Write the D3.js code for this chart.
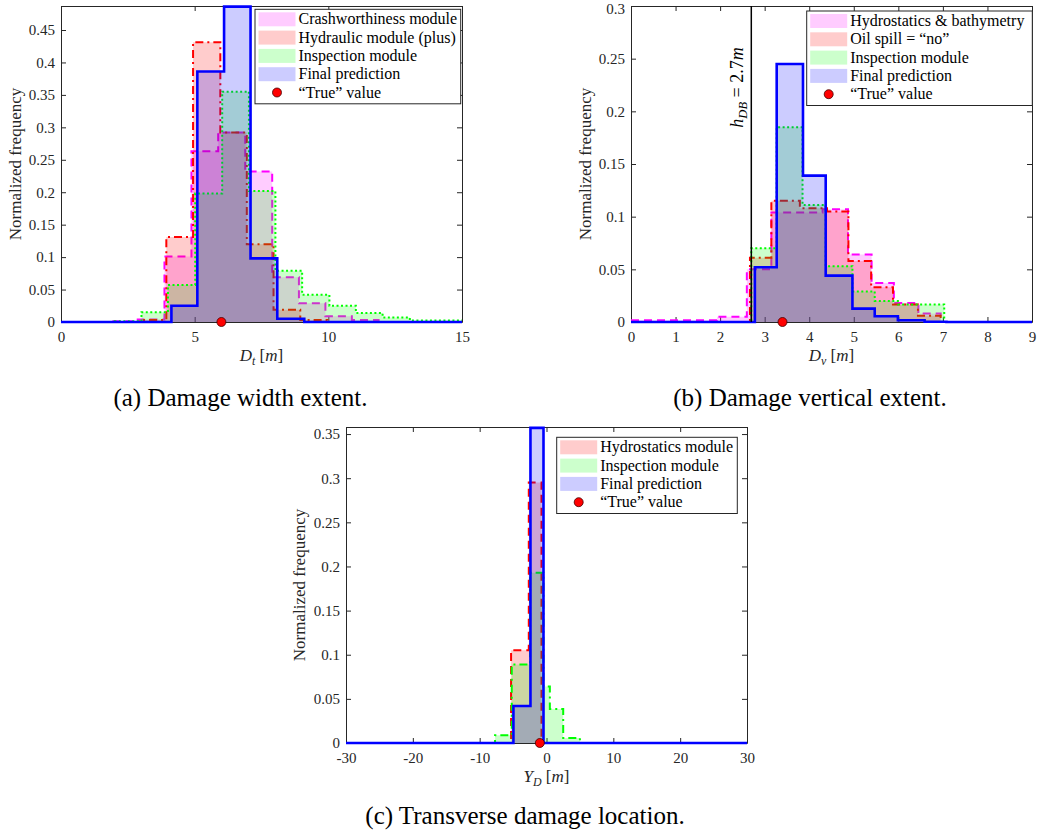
<!DOCTYPE html>
<html>
<head>
<meta charset="utf-8">
<script src="https://cdn.jsdelivr.net/npm/d3@7"></script>
<style>
  body { margin: 0; background: #fff; }
  svg { display: block; font-family: "Liberation Serif", "Times New Roman", serif; }
</style>
</head>
<body>
<script>
// (a) damage width extent: bin edges and normalized frequency per series
var aCrashEdges = [0, 1.88, 2.87, 3.87, 4.88, 5.88, 6.89, 7.9, 8.9, 9.89, 10.88, 11.88, 15];
var aCrashFreq  = [0, 0.001, 0.004, 0.101, 0.263, 0.292, 0.232, 0.069, 0.029, 0.009, 0.003, 0];
var aHydrEdges  = [0, 2.94, 3.94, 4.94, 5.96, 6.95, 7.95, 8.95, 9.97, 15];
var aHydrFreq   = [0, 0.003, 0.131, 0.431, 0.292, 0.12, 0.019, 0.003, 0];
var aInspEdges  = [0, 2.01, 3.01, 4.0, 5.02, 6.03, 7.03, 8.02, 9.02, 10.04, 11.03, 12.03, 13.05, 15];
var aInspFreq   = [0, 0.001, 0.015, 0.057, 0.198, 0.355, 0.202, 0.079, 0.042, 0.025, 0.014, 0.007, 0.0025];
var aFinalEdges = [0, 4.13, 5.1, 6.1, 7.09, 8.09, 9.1, 15];
var aFinalFreq  = [0, 0.025, 0.386, 0.486, 0.098, 0.005, 0];
var aTrue = 6.0;
var aXTicks = [0, 5, 10, 15];
var aYTicks = [0, 0.05, 0.1, 0.15, 0.2, 0.25, 0.3, 0.35, 0.4, 0.45];
var aLegend = ['Crashworthiness module', 'Hydraulic module (plus)', 'Inspection module', 'Final prediction', '\u201cTrue\u201d value'];

// (b) damage vertical extent
var bHydroEdges = [0, 1.93, 2.6, 3.15, 3.72, 4.3, 4.87, 5.4, 5.9, 6.45, 6.95, 9];
var bHydroFreq  = [0.0016, 0.005, 0.05, 0.104, 0.104, 0.107, 0.064, 0.037, 0.018, 0.008, 0];
var bOilEdges   = [0, 2.67, 3.15, 3.79, 4.4, 4.88, 5.39, 5.88, 6.44, 6.95, 9];
var bOilFreq    = [0, 0.061, 0.115, 0.108, 0.105, 0.058, 0.033, 0.0165, 0.006, 0];
var bInspEdges  = [0, 2.7, 3.27, 3.85, 4.37, 4.97, 5.47, 5.99, 6.5, 7.03, 9];
var bInspFreq   = [0, 0.070, 0.185, 0.111, 0.053, 0.029, 0.020, 0.0165, 0.0165, 0];
var bFinalEdges = [0, 2.78, 3.27, 3.86, 4.37, 4.97, 5.47, 5.99, 6.59, 7.08, 9];
var bFinalFreq  = [0, 0.052, 0.245, 0.139, 0.044, 0.0127, 0.0054, 0.0016, 0.0003, 0];
var bTrue = 3.4;
var bHdb = 2.7;
var bXTicks = [0, 1, 2, 3, 4, 5, 6, 7, 8, 9];
var bYTicks = [0, 0.05, 0.1, 0.15, 0.2, 0.25, 0.3];
var bLegend = ['Hydrostatics & bathymetry', 'Oil spill = \u201cno\u201d', 'Inspection module', 'Final prediction', '\u201cTrue\u201d value'];

// (c) transverse damage location
var cHydroEdges = [-30, -5.3, -2.65, -0.75, 30];
var cHydroFreq  = [0, 0.105, 0.295, 0];
var cInspEdges  = [-30, -7.7, -5.2, -2.45, -0.46, 0.5, 2.5, 5.0, 30];
var cInspFreq   = [0, 0.0087, 0.089, 0.193, 0.064, 0.0385, 0.0057, 0];
var cFinalEdges = [-30, -4.95, -2.4, -0.45, 30];
var cFinalFreq  = [0, 0.042, 0.357, 0];
var cTrue = -1.0;
var cXTicks = [-30, -20, -10, 0, 10, 20, 30];
var cYTicks = [0, 0.05, 0.1, 0.15, 0.2, 0.25, 0.3, 0.35];
var cLegend = ['Hydrostatics module', 'Inspection module', 'Final prediction', '\u201cTrue\u201d value'];

var W = 1037, H = 835;
var ink = '#262626';

var svg = d3.select('body').append('svg')
    .attr('width', W)
    .attr('height', H);
svg.append('rect').attr('width', W).attr('height', H).attr('fill', '#fff');

/* line styles */
var MAG = {color: '#ff00ff', dash: '8,5', width: 2};
var RED_DD = {color: '#ff0000', dash: '8,4,2,4', width: 2};
var RED_D = {color: '#ff0000', dash: '8,5', width: 2};
var GRN_DOT = {color: '#00ff00', dash: '2,2.5', width: 2};
var GRN_DD = {color: '#00ff00', dash: '8,4,2,4', width: 2};
var BLUE = {color: '#0000ff', dash: null, width: 2.6};

function tickFmt(d) { return d === 0 ? '0' : String(+d.toFixed(2)); }

function mathText(sel, parts) {
    // parts: [text, italic, sub, back-up-from-sub]
    parts.forEach(function(p) {
        var t = sel.append('tspan').text(p[0]);
        if (p[1]) t.attr('font-style', 'italic');
        if (p[2]) t.attr('font-size', '70%').attr('dy', 4);
        if (p[3]) t.attr('dy', -4);
    });
}

function drawPanel(p) {
    var x = d3.scaleLinear().domain(p.xDomain).range([p.left, p.right]);
    var y = d3.scaleLinear().domain(p.yDomain).range([p.bottom, p.top]);
    var g = svg.append('g');

    /* axes box with inward ticks */
    var bottom = g.append('g').attr('transform', 'translate(0,' + p.bottom + ')')
        .call(d3.axisBottom(x).tickValues(p.xTicks).tickSize(-5).tickSizeOuter(0).tickPadding(9).tickFormat(d => String(d)));
    var top = g.append('g').attr('transform', 'translate(0,' + p.top + ')')
        .call(d3.axisTop(x).tickValues(p.xTicks).tickSize(-5).tickSizeOuter(0).tickFormat(''));
    var left = g.append('g').attr('transform', 'translate(' + p.left + ',0)')
        .call(d3.axisLeft(y).tickValues(p.yTicks).tickSize(-5).tickSizeOuter(0).tickPadding(6).tickFormat(tickFmt));
    var right = g.append('g').attr('transform', 'translate(' + p.right + ',0)')
        .call(d3.axisRight(y).tickValues(p.yTicks).tickSize(-5).tickSizeOuter(0).tickFormat(''));
    [bottom, top, left, right].forEach(function(a) {
        a.attr('font-family', null).attr('font-size', 15);
        a.selectAll('path, line').attr('stroke', ink).attr('stroke-width', 1);
        a.selectAll('text').attr('fill', ink);
    });
    // keep the topmost y label inside the picture
    left.selectAll('.tick text').filter(d => y(d) < 10).attr('dy', '0.5em');

    /* histograms as filled stairs */
    p.series.forEach(function(s) {
        var pts = s.edges.map((e, i) => [e, s.freq[Math.min(i, s.freq.length - 1)]]);
        g.append('path').datum(pts)
            .attr('d', d3.area().x(d => x(d[0])).y0(y(0)).y1(d => y(d[1])).curve(d3.curveStepAfter))
            .attr('fill', s.style.color).attr('fill-opacity', 0.2);
        g.append('path').datum(pts)
            .attr('d', d3.line().x(d => x(d[0])).y(d => y(d[1])).curve(d3.curveStepAfter))
            .attr('fill', 'none')
            .attr('stroke', s.style.color)
            .attr('stroke-width', s.style.width)
            .attr('stroke-dasharray', s.style.dash);
    });

    if (p.extra) p.extra(g, x, y);

    g.append('circle')
        .attr('cx', x(p.trueVal)).attr('cy', y(0)).attr('r', 4.5)
        .attr('fill', '#ff0000').attr('stroke', '#400').attr('stroke-width', 0.8);

    /* axis labels */
    var xl = g.append('text')
        .attr('x', (p.left + p.right) / 2).attr('y', p.bottom + 39)
        .attr('text-anchor', 'middle').attr('font-size', 17).attr('fill', ink);
    mathText(xl, p.xLabel);

    g.append('text')
        .attr('transform', 'translate(' + p.yLabelX + ',' + (p.top + p.bottom) / 2 + ') rotate(-90)')
        .attr('text-anchor', 'middle').attr('font-size', 17).attr('fill', ink)
        .text('Normalized frequency');

    /* legend */
    var L = p.legend, rowH = 18.3;
    var lg = g.append('g');
    lg.append('rect')
        .attr('x', L.x).attr('y', L.y).attr('width', L.w).attr('height', L.labels.length * rowH + 3)
        .attr('fill', '#fff').attr('stroke', ink).attr('stroke-width', 1);
    L.labels.forEach(function(lab, i) {
        var cy = L.y + 10 + i * rowH;
        if (i < p.series.length) {
            lg.append('rect')
                .attr('x', L.x + 3.5).attr('y', cy - 7).attr('width', 37).attr('height', 14)
                .attr('fill', p.series[i].style.color).attr('fill-opacity', 0.2);
        } else {
            lg.append('circle')
                .attr('cx', L.x + 22).attr('cy', cy).attr('r', 4.5)
                .attr('fill', '#ff0000').attr('stroke', '#400').attr('stroke-width', 0.8);
        }
        lg.append('text')
            .attr('x', L.x + 43.5).attr('y', cy + 5)
            .attr('font-size', 16).attr('fill', '#000')
            .text(lab);
    });

    svg.append('text')
        .attr('x', p.captionX).attr('y', p.captionY)
        .attr('text-anchor', 'middle').attr('font-size', 25).attr('fill', '#000')
        .text(p.caption);
}

drawPanel({
    left: 61, right: 462, top: 6, bottom: 322,
    xDomain: [0, 15], yDomain: [0, 0.487],
    xTicks: aXTicks, yTicks: aYTicks,
    series: [
        {edges: aCrashEdges, freq: aCrashFreq, style: MAG},
        {edges: aHydrEdges, freq: aHydrFreq, style: RED_DD},
        {edges: aInspEdges, freq: aInspFreq, style: GRN_DOT},
        {edges: aFinalEdges, freq: aFinalFreq, style: BLUE}
    ],
    trueVal: aTrue,
    xLabel: [['D', true], ['t', true, true], [' [', false, false, true], ['m', true], [']']],
    yLabelX: 21,
    legend: {x: 255, y: 9.3, w: 205.7, labels: aLegend},
    caption: '(a) Damage width extent.', captionX: 240.5, captionY: 406
});

drawPanel({
    left: 631, right: 1032, top: 6, bottom: 322,
    xDomain: [0, 9], yDomain: [0, 0.3],
    xTicks: bXTicks, yTicks: bYTicks,
    series: [
        {edges: bHydroEdges, freq: bHydroFreq, style: MAG},
        {edges: bOilEdges, freq: bOilFreq, style: RED_DD},
        {edges: bInspEdges, freq: bInspFreq, style: GRN_DOT},
        {edges: bFinalEdges, freq: bFinalFreq, style: BLUE}
    ],
    trueVal: bTrue,
    extra: function(g, x, y) {
        g.append('line')
            .attr('x1', x(bHdb)).attr('x2', x(bHdb))
            .attr('y1', y(0)).attr('y2', y(0.3))
            .attr('stroke', '#000').attr('stroke-width', 1.5);
        var t = g.append('text')
            .attr('transform', 'translate(' + (x(bHdb) - 8) + ',87.5) rotate(-90)')
            .attr('text-anchor', 'middle').attr('font-size', 18).attr('fill', '#000');
        mathText(t, [['h', true], ['DB', true, true], [' = 2.7', false, false, true], ['m', true]]);
    },
    xLabel: [['D', true], ['v', true, true], [' [', false, false, true], ['m', true], [']']],
    yLabelX: 591,
    legend: {x: 806.7, y: 11, w: 225.6, labels: bLegend},
    caption: '(b) Damage vertical extent.', captionX: 810, captionY: 406
});

drawPanel({
    left: 346, right: 747, top: 427, bottom: 743,
    xDomain: [-30, 30], yDomain: [0, 0.358],
    xTicks: cXTicks, yTicks: cYTicks,
    series: [
        {edges: cHydroEdges, freq: cHydroFreq, style: RED_D},
        {edges: cInspEdges, freq: cInspFreq, style: GRN_DD},
        {edges: cFinalEdges, freq: cFinalFreq, style: BLUE}
    ],
    trueVal: cTrue,
    xLabel: [['Y', true], ['D', true, true], [' [', false, false, true], ['m', true], [']']],
    yLabelX: 305,
    legend: {x: 556.7, y: 437.3, w: 180.6, labels: cLegend},
    caption: '(c) Transverse damage location.', captionX: 525, captionY: 824
});
</script>
</body>
</html>
